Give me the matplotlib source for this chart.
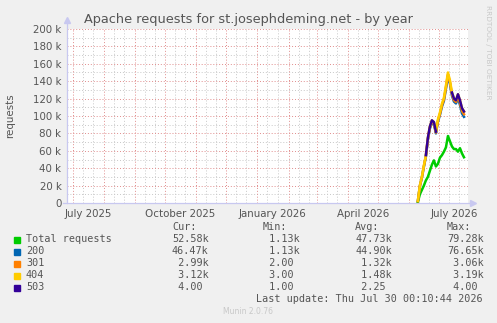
import matplotlib
matplotlib.use('Agg')
import matplotlib.pyplot as plt
from matplotlib.patches import Rectangle
import numpy as np
import pandas as pd

# Samples every 2 days
dates = pd.date_range('2026-06-10', periods=24, freq='2D')
total = np.array([1.13, 10, 15, 20, 26, 30, 37, 44, 49, 42, 45, 52,
                  55, 59, 64, 77, 71, 65, 62, 62, 59, 63, 57, 52.58]) * 1000
s200 = np.array([1.13, 9.5, 14.1, 21.7, 27.3, 42.9, 48.6, 48.4, 41.8, 38.0, 48.4, 49.2,
                 55.8, 58.6, 67.2, 68.8, 66.0, 58.4, 54.6, 52.4, 61.4, 49.7, 46.0, 46.47]) * 1000
s301 = np.array([0.002, 0.2, 0.4, 0.6, 0.8, 1.0, 1.1, 1.2, 1.0, 0.9, 1.2, 1.3,
                 1.5, 1.6, 1.8, 2.0, 1.9, 1.7, 1.6, 1.7, 2.2, 2.5, 2.8, 2.99]) * 1000
s404 = np.array([0.003, 0.3, 0.5, 0.7, 0.9, 1.1, 1.3, 1.4, 1.2, 1.1, 1.4, 1.5,
                 1.7, 1.8, 2.0, 2.2, 2.1, 1.9, 1.8, 1.9, 2.4, 2.8, 3.19, 3.12]) * 1000
nan = np.nan
s503 = np.array([nan, nan, nan, nan, 1, 2, 1, 3, 2, 1, nan, nan,
                 nan, nan, nan, nan, nan, 2, 3, 2, 4, 3, 2, 4])

names = ['Total requests', '200', '301', '404', '503']
colors = ['#00CC00', '#0066B3', '#FF8000', '#FFCC00', '#330099']
cur = ['52.58k', '46.47k', ' 2.99k', ' 3.12k', ' 4.00 ']
mins = [' 1.13k', ' 1.13k', ' 2.00 ', ' 3.00 ', ' 1.00 ']
avgs = ['47.73k', '44.90k', ' 1.32k', ' 1.48k', ' 2.25 ']
maxs = ['79.28k', '76.65k', ' 3.06k', ' 3.19k', ' 4.00 ']

W, H = 497, 323
bg = '#F0F0F0'
txt = '#555555'

fig = plt.figure(figsize=(W / 100, H / 100), dpi=100, facecolor=bg)


def fx(x):
    return x / W


def fy(y):
    return 1 - y / H


ax = fig.add_axes([fx(67), fy(203), fx(468) - fx(67), fy(29) - fy(203)])
ax.set_facecolor('white')

start = pd.Timestamp('2025-06-25 00:10')
end = pd.Timestamp('2026-07-30 00:10')
ax.set_xlim(start, end)
ax.set_ylim(0, 200000)

# grid: minor grey, major red
minor = dict(color='#C8C8C8', lw=0.7, ls=(0, (1, 2)), zorder=0)
major = dict(color='#E08C8C', lw=0.7, ls=(0, (1, 2)), zorder=0.5)
for v in range(10000, 200001, 20000):
    ax.axhline(v, **minor)
for v in range(20000, 200001, 20000):
    ax.axhline(v, **major)
for m in pd.date_range('2025-06-01', '2026-08-01', freq='MS'):
    for d in (10, 20):
        t = m + pd.Timedelta(days=d)
        if start < t < end:
            ax.axvline(t, **minor)
    if start < m < end:
        ax.axvline(m, **major)

# stacked lines like munin
c200 = total + s200
c301 = c200 + s301
c404 = c301 + s404
c503 = c404 + s503
for ys, col in zip([total, c200, c301, c404, c503], colors):
    ax.plot(dates, ys, color=col, lw=1.8, zorder=3)

for s in ax.spines.values():
    s.set_visible(False)
ax.plot([0, 0], [0, 1.04], transform=ax.transAxes, color='#C8C8F0', lw=0.9, clip_on=False)
ax.plot([-0.01, 1.01], [0, 0], transform=ax.transAxes, color='#C8C8F0', lw=0.9, clip_on=False)
ax.plot([0], [1.05], transform=ax.transAxes, marker='^', ms=4, color='#C8C8F0', clip_on=False)
ax.plot([1.012], [0], transform=ax.transAxes, marker='>', ms=4, color='#C8C8F0', clip_on=False)

yt = list(range(0, 200001, 20000))
ax.set_yticks(yt)
ax.set_yticklabels(['0' if v == 0 else f'{v // 1000} k' for v in yt])
lab = [pd.Timestamp(d) for d in ['2025-07-16', '2025-10-16', '2026-01-16', '2026-04-16', '2026-07-16']]
ax.set_xticks(lab)
ax.set_xticklabels(['July 2025', 'October 2025', 'January 2026', 'April 2026', 'July 2026'])
ax.tick_params(axis='both', length=0, labelsize=7.4, colors=txt, pad=4)

fig.text(fx(248), fy(19), 'Apache requests for st.josephdeming.net - by year',
         ha='center', va='center', fontsize=9.3, color=txt)
fig.text(fx(10), fy(116), 'requests', rotation=90, ha='center', va='center',
         fontsize=7.4, color=txt)
fig.text(fx(488), fy(5), 'RRDTOOL / TOBI OETIKER', rotation=270, ha='center', va='top',
         fontsize=5.3, color='#C8C8C8')

# legend table
mono = dict(family='DejaVu Sans Mono', fontsize=7.3, color=txt, va='center')
for x, h in zip([172, 263, 355, 447], ['Cur:', 'Min:', 'Avg:', 'Max:']):
    fig.text(fx(x), fy(227), h, **mono)
for i, name in enumerate(names):
    y = 239.5 + i * 12
    fig.patches.append(Rectangle((fx(14), fy(y + 3)), fx(6), fy(y - 3) - fy(y + 3),
                                 transform=fig.transFigure, color=colors[i]))
    fig.text(fx(26), fy(y), name, **mono)
    fig.text(fx(172), fy(y), cur[i], **mono)
    fig.text(fx(263), fy(y), mins[i], **mono)
    fig.text(fx(355), fy(y), avgs[i], **mono)
    fig.text(fx(447), fy(y), maxs[i], **mono)
fig.text(fx(483), fy(299.5), 'Last update: Thu Jul 30 00:10:44 2026', ha='right', **mono)
fig.text(fx(248), fy(312), 'Munin 2.0.76', ha='center', va='center', fontsize=5.5, color='#C8C8C8')

fig.savefig('out.png', dpi=100, facecolor=bg)
